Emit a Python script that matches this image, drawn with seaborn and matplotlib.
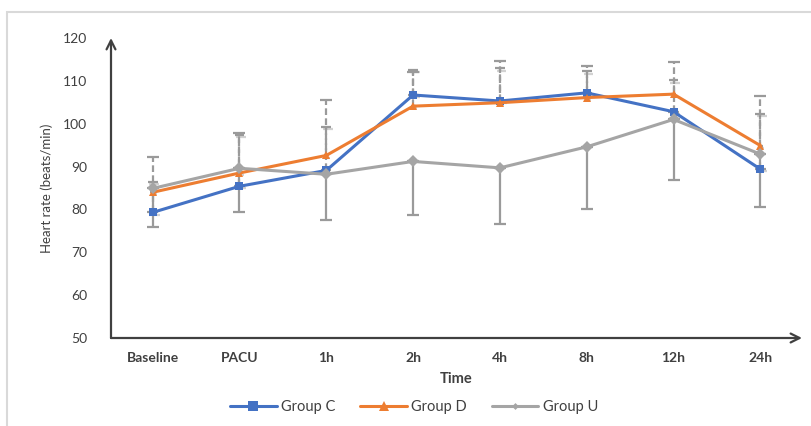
import matplotlib
matplotlib.use("Agg")
import matplotlib.pyplot as plt
import matplotlib.patheffects as pe
from matplotlib.lines import Line2D
from matplotlib.patches import Rectangle
import numpy as np
import pandas as pd
import seaborn as sns

# ── data ───────────────────────────────────────────────────────────────
TIMES = ["Baseline", "PACU", "1h", "2h", "4h", "8h", "12h", "24h"]
GROUPS = ["Group C", "Group D", "Group U"]

group_c = [79.3, 85.4, 89.1, 106.7, 105.3, 107.2, 102.8, 89.4]
group_d = [84.0, 88.5, 92.6, 104.1, 104.9, 106.1, 106.9, 94.9]
group_u = [84.9, 89.6, 88.2, 91.2, 89.7, 94.6, 101.0, 92.9]

# SD bars: C and D drawn upward only, U downward only
sd_c = [7.1, 11.9, 10.2, 5.8, 7.6, 5.0, 7.3, 12.8]
sd_d = [8.2, 9.3, 12.9, 7.9, 9.8, 7.4, 7.4, 11.5]
sd_u = [9.1, 10.3, 10.6, 12.4, 13.0, 14.6, 14.2, 12.4]

COLORS = {"Group C": "#4472C4", "Group D": "#ED7D31", "Group U": "#A5A5A5"}
MARKERS = {"Group C": "s", "Group D": "^", "Group U": "D"}
MSIZE = {"Group C": 7.5, "Group D": 7, "Group U": 3.5}
TEXT = "#404040"
ERR = "#9a9a9a"

df = pd.DataFrame({
    "Time":  TIMES * 3,
    "Heart rate": group_c + group_d + group_u,
    "Group": np.repeat(GROUPS, len(TIMES)),
})

sns.set_theme(style="white")
plt.rcParams["font.family"] = ["Lato", "DejaVu Sans"]

fig = plt.figure(figsize=(8.12, 4.26), dpi=100)
ax = fig.add_axes([111 / 812, 1 - 338 / 426, (802 - 111) / 812, 300 / 426])

# error bars first, lines on top
x = np.arange(len(TIMES))
zeros = np.zeros(len(TIMES))
for means, sd, up in [(group_c, sd_c, True), (group_d, sd_d, True), (group_u, sd_u, False)]:
    yerr = [zeros, sd] if up else [sd, zeros]
    eb = ax.errorbar(x, means, yerr=yerr, fmt="none", ecolor=ERR,
                     elinewidth=1.6, capsize=4, capthick=1.6, zorder=1)
    if up:
        for col in eb[2]:
            col.set_linestyle((0, (3, 1.5)))

sns.lineplot(data=df, x="Time", y="Heart rate", hue="Group", style="Group",
             palette=COLORS, markers=MARKERS, dashes=False, linewidth=2.2,
             markeredgewidth=0, legend=False, ax=ax, zorder=3)

shadow = [pe.SimpleLineShadow(offset=(1.2, -1.5), shadow_color="#7f7f7f", alpha=0.35),
          pe.Normal()]
for line, g in zip(ax.lines, GROUPS):
    line.set_markersize(MSIZE[g])
    line.set_path_effects(shadow)

ax.set_xlim(-0.48, 7.48)
ax.set_ylim(50, 120)
ax.set_yticks(range(50, 121, 10))
for s in ax.spines.values():
    s.set_visible(False)
ax.tick_params(axis="both", length=0, colors=TEXT, labelsize=10)
ax.tick_params(axis="x", pad=10)
ax.tick_params(axis="y", pad=17)
for lbl in ax.get_xticklabels():
    lbl.set_fontweight("bold")
ax.set_xlabel("Time", fontsize=10.5, color=TEXT, fontweight="bold", labelpad=6)
ax.set_ylabel("Heart rate (beats/min)", fontsize=9.5, color=TEXT, labelpad=7)

# axes drawn as arrows
arrow = dict(arrowstyle="->", color="#404040", lw=1.6, shrinkA=0, shrinkB=0,
             mutation_scale=16)
ax.annotate("", xy=(1, 0), xytext=(0, 0), xycoords="axes fraction",
            textcoords="axes fraction", arrowprops=arrow)
ax.annotate("", xy=(0, 1.0), xytext=(0, 0), xycoords="axes fraction",
            textcoords="axes fraction", arrowprops=arrow)

handles = [Line2D([], [], color=COLORS[g], marker=MARKERS[g], markersize=MSIZE[g],
                  markeredgewidth=0, linewidth=2.2) for g in GROUPS]
leg = fig.legend(handles, GROUPS, loc="center", bbox_to_anchor=(0.51, 0.045),
                 ncol=3, frameon=False, handlelength=3.2, handletextpad=0.3,
                 columnspacing=1.7, fontsize=10.5)
for t in leg.get_texts():
    t.set_color(TEXT)

# chart-area border (cropped at right and bottom in the reference)
fig.add_artist(Rectangle((7 / 812, -0.1), 1.2, 0.1 + (426 - 12) / 426,
                         transform=fig.transFigure, fill=False,
                         edgecolor="#d9d9d9", linewidth=1.5))

fig.savefig("out.png", dpi=100)
plt.close(fig)
